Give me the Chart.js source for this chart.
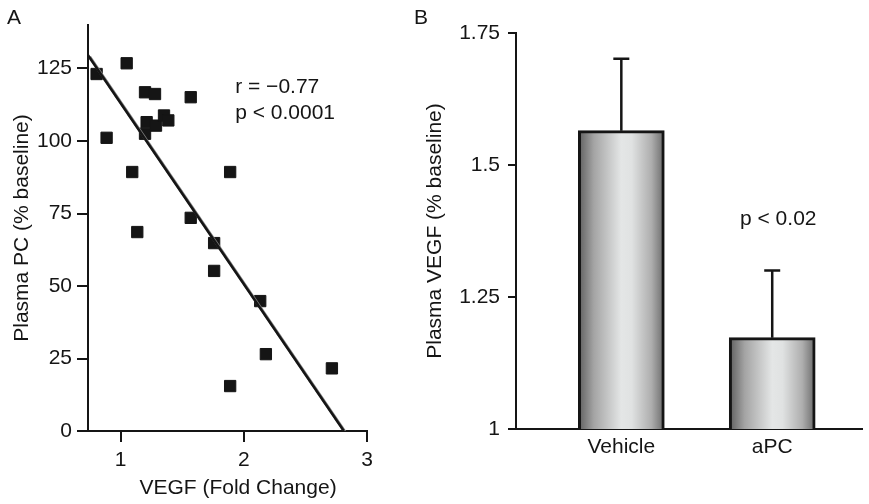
<!DOCTYPE html>
<html>
<head>
<meta charset="utf-8">
<script src="https://cdn.jsdelivr.net/npm/chart.js@4"></script>
<style>
  html, body { margin: 0; padding: 0; background: #fff; }
  #wrap { position: relative; width: 869px; height: 504px; overflow: hidden; }
  #chartA { position: absolute; left: 0; top: 0; }
  #chartB { position: absolute; left: 405px; top: 0; }
</style>
</head>
<body>
<div id="wrap">
  <canvas id="chartA" width="400" height="504"></canvas>
  <canvas id="chartB" width="464" height="504"></canvas>
</div>
<script>
// panel A - plasma PC vs VEGF fold change
const vegfFold = [0.805, 1.049, 0.886, 1.198, 1.279, 1.569, 1.211, 1.198, 1.287, 1.352, 1.387,
  1.094, 1.135, 1.889, 1.569, 1.759, 1.759, 2.133, 2.179, 1.889, 2.715]
const plasmaPC = [123.1, 126.8, 101.1, 116.8, 116.2, 115.1, 106.5, 102.5, 105.3, 108.8, 107.1,
  89.3, 68.6, 89.3, 73.5, 64.8, 55.2, 44.8, 26.5, 15.5, 21.6]
// regression line end points
const fitX = [0.735, 2.812]
const fitY = [129.6, 0]
const pcTicksY = [0, 25, 50, 75, 100, 125]
const pcTicksX = [1, 2, 3]

// panel B - plasma VEGF by treatment
const groups = ['Vehicle', 'aPC']
const vegfMean = [1.565, 1.173]
const vegfErrTop = [1.701, 1.3]
const vegfTicks = [1, 1.25, 1.5, 1.75]

const INK = '#151515'
const FONT = "'Liberation Sans', Arial, Helvetica, sans-serif"
Chart.defaults.font.family = FONT
Chart.defaults.font.size = 21
Chart.defaults.color = INK
Chart.defaults.animation = false
Chart.defaults.plugins.legend.display = false
Chart.defaults.plugins.tooltip.enabled = false

function axisStyle(tickLen, lw) {
  return {
    grid: { drawOnChartArea: false, drawTicks: true, tickLength: tickLen, color: INK, lineWidth: lw },
    border: { display: true, color: INK, width: lw },
  }
}

// text labels drawn on top of a chart
function textPlugin(items) {
  return {
    id: 'texts',
    afterDraw(chart) {
      const ctx = chart.ctx
      ctx.save()
      ctx.fillStyle = INK
      ctx.font = '21px ' + FONT
      ctx.textBaseline = 'middle'
      items.forEach((t) => {
        ctx.textAlign = t.align || 'left'
        const x = t.px !== undefined ? t.px : chart.scales.x.getPixelForValue(t.x)
        const y = t.py !== undefined ? t.py : chart.scales.y.getPixelForValue(t.y)
        ctx.fillText(t.text, x, y)
      })
      ctx.restore()
    },
  }
}

const axA = axisStyle(11, 2)
new Chart(document.getElementById('chartA'), {
  type: 'scatter',
  data: {
    datasets: [
      {
        type: 'line',
        data: fitX.map((x, i) => ({ x: x, y: fitY[i] })),
        borderColor: INK,
        borderWidth: 2.5,
        pointRadius: 0,
      },
      {
        type: 'line',
        data: fitX.map((x, i) => ({ x: x + 0.014, y: fitY[i] - 0.6 })),
        borderColor: '#808080',
        borderWidth: 3,
        pointRadius: 0,
      },
      {
        data: vegfFold.map((x, i) => ({ x: x, y: plasmaPC[i] })),
        pointStyle: 'rect',
        pointRadius: 8,
        backgroundColor: INK,
        borderColor: INK,
        borderWidth: 1,
      },
    ],
  },
  options: {
    responsive: false,
    layout: { padding: { left: 0, top: 25, right: 33, bottom: 0 } },
    scales: {
      x: {
        type: 'linear',
        min: 0.735,
        max: 3,
        ...axA,
        afterBuildTicks: (s) => { s.ticks = pcTicksX.map((v) => ({ value: v })) },
        afterFit: (s) => { s.height = 73 },
        ticks: { padding: 6, color: INK },
      },
      y: {
        min: 0,
        max: 140,
        ...axA,
        afterBuildTicks: (s) => { s.ticks = pcTicksY.map((v) => ({ value: v })) },
        afterFit: (s) => { s.width = 88 },
        ticks: { padding: 5, color: INK },
        title: { display: true, text: 'Plasma PC (% baseline)', color: INK, padding: { top: 10, bottom: 0 } },
      },
    },
  },
  plugins: [textPlugin([
    { text: 'A', px: 7, py: 18 },
    { text: 'r = \u22120.77', x: 1.93, y: 118.6 },
    { text: 'p < 0.0001', x: 1.93, y: 109.6 },
    { text: 'VEGF (Fold Change)', px: 238, py: 488, align: 'center' },
  ])],
})

// error bars for panel B
const errorBars = {
  id: 'errorBars',
  afterDatasetsDraw(chart) {
    const { ctx, scales } = chart
    ctx.save()
    ctx.strokeStyle = INK
    ctx.lineWidth = 2.5
    vegfMean.forEach((m, i) => {
      const x = scales.x.getPixelForValue(i + 1)
      const y0 = scales.y.getPixelForValue(m)
      const y1 = scales.y.getPixelForValue(vegfErrTop[i])
      ctx.beginPath()
      ctx.moveTo(x, y0)
      ctx.lineTo(x, y1)
      ctx.moveTo(x - 8, y1)
      ctx.lineTo(x + 8, y1)
      ctx.stroke()
    })
    ctx.restore()
  },
}

const BAR_W = 86
function barGradient(c) {
  const chart = c.chart
  if (!chart.chartArea || c.dataIndex === undefined) return '#ccc'
  const cx = chart.scales.x.getPixelForValue(c.dataIndex + 1)
  const g = chart.ctx.createLinearGradient(cx - BAR_W / 2, 0, cx + BAR_W / 2, 0)
  g.addColorStop(0, '#5e5e5e')
  g.addColorStop(0.18, '#a4a4a4')
  g.addColorStop(0.5, '#e4e6e6')
  g.addColorStop(0.62, '#e0e2e2')
  g.addColorStop(0.85, '#aeaeae')
  g.addColorStop(1, '#6a6a6a')
  return g
}

const axB = axisStyle(8, 2)
new Chart(document.getElementById('chartB'), {
  type: 'bar',
  data: {
    datasets: [
      {
        data: vegfMean.map((v, i) => ({ x: i + 1, y: v })),
        backgroundColor: barGradient,
        borderColor: INK,
        borderWidth: 3,
        borderSkipped: false,
        barThickness: BAR_W,
      },
    ],
  },
  options: {
    responsive: false,
    layout: { padding: { left: 0, top: 33, right: 7, bottom: 0 } },
    scales: {
      x: {
        type: 'linear',
        min: 0.302,
        max: 2.595,
        offset: false,
        ...axB,
        grid: { ...axB.grid, drawTicks: false, offset: false },
        afterBuildTicks: (s) => { s.ticks = groups.map((g, i) => ({ value: i + 1 })) },
        afterFit: (s) => { s.height = 75 },
        ticks: { padding: 6, color: INK, callback: (v) => groups[v - 1] },
      },
      y: {
        min: 1,
        max: 1.75,
        ...axB,
        afterBuildTicks: (s) => { s.ticks = vegfTicks.map((v) => ({ value: v })) },
        afterFit: (s) => { s.width = 111 },
        ticks: { padding: 8, color: INK, callback: (v) => String(v) },
        title: { display: true, text: 'Plasma VEGF (% baseline)', color: INK, padding: { top: 18, bottom: 0 } },
      },
    },
  },
  plugins: [errorBars, textPlugin([
    { text: 'B', px: 9, py: 18 },
    { text: 'p < 0.02', x: 2.04, y: 1.397, align: 'center' },
  ])],
})
</script>
</body>
</html>
